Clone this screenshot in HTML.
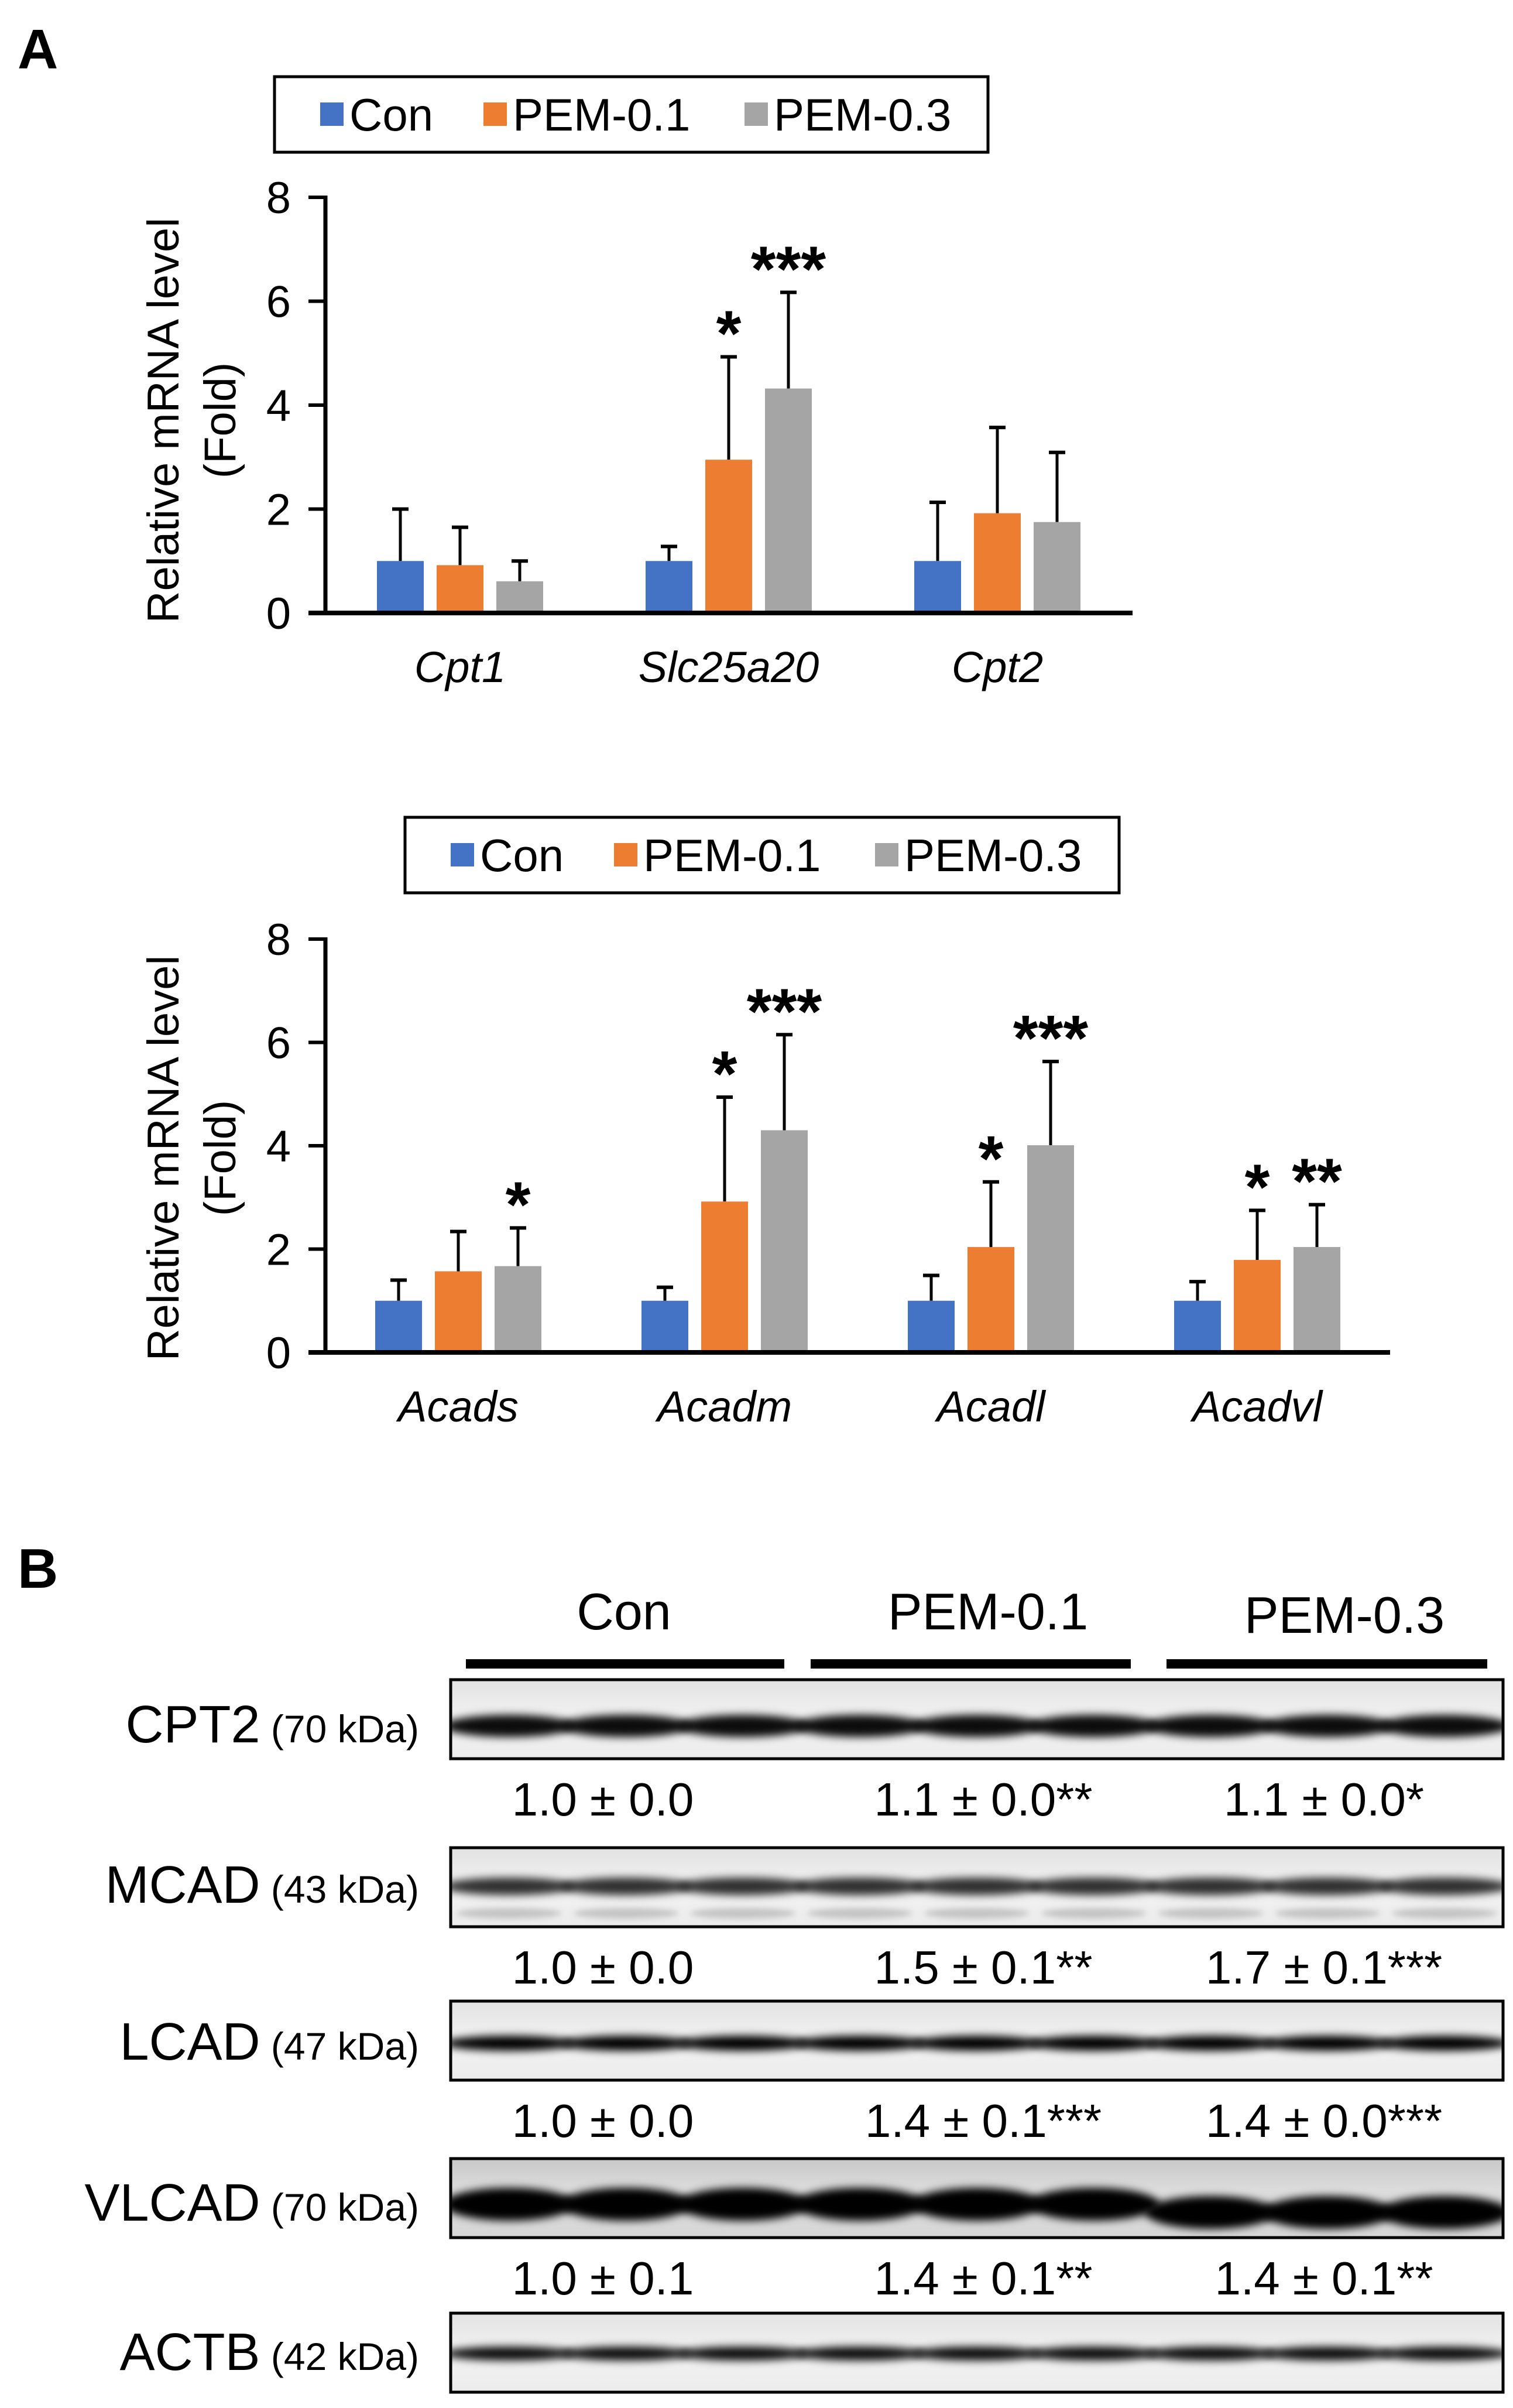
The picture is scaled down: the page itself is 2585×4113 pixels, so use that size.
<!DOCTYPE html>
<html><head><meta charset="utf-8">
<style>
html,body{margin:0;padding:0;background:#fff;}
svg{display:block;}
text{font-family:"Liberation Sans",Arial,sans-serif;fill:#000;}
</style></head>
<body>
<svg id="fig" width="2585" height="4113" viewBox="0 0 2585 4113" xmlns="http://www.w3.org/2000/svg">
<defs>
<filter id="blur" x="-5%" y="-100%" width="110%" height="300%"><feGaussianBlur stdDeviation="7"/></filter>
<filter id="blur2" x="-5%" y="-100%" width="110%" height="300%"><feGaussianBlur stdDeviation="5"/></filter>
<clipPath id="clipAll"><rect x="770" y="2860" width="1798" height="1240"/></clipPath>
<linearGradient id="bgA" x1="0" y1="0" x2="0" y2="1"><stop offset="0" stop-color="#e2e2e2"/><stop offset="0.5" stop-color="#f2f2f2"/><stop offset="1" stop-color="#ececec"/></linearGradient>
<linearGradient id="bgV" x1="0" y1="0" x2="0" y2="1"><stop offset="0" stop-color="#c8c8c8"/><stop offset="0.4" stop-color="#dcdcdc"/><stop offset="1" stop-color="#d6d6d6"/></linearGradient>
</defs>
<text x="30" y="117" font-size="96" font-weight="bold">A</text>
<text x="30" y="2712" font-size="96" font-weight="bold">B</text>
<g id="c1"></g>
<g id="c2"></g>
<g id="blot"></g>
</svg>
<script>
const seriesNames = ["Con", "PEM-0.1", "PEM-0.3"];
const seriesColors = ["#4472C4", "#ED7D31", "#A5A5A5"];
const yTicks = [0, 2, 4, 6, 8];
const cats1 = ["Cpt1", "Slc25a20", "Cpt2"];
const con1 = [1.0, 1.0, 1.0];
const pem01_1 = [0.92, 2.95, 1.92];
const pem03_1 = [0.61, 4.32, 1.75];
const conErr1 = [2.0, 1.28, 2.13];
const pem01Err1 = [1.65, 4.93, 3.57];
const pem03Err1 = [1.0, 6.17, 3.09];
const sig1 = [["", "", ""], ["", "*", "***"], ["", "", ""]];
const cats2 = ["Acads", "Acadm", "Acadl", "Acadvl"];
const con2 = [1.0, 1.0, 1.0, 1.0];
const pem01_2 = [1.57, 2.92, 2.04, 1.79];
const pem03_2 = [1.67, 4.3, 4.01, 2.04];
const conErr2 = [1.4, 1.26, 1.49, 1.37];
const pem01Err2 = [2.34, 4.94, 3.3, 2.75];
const pem03Err2 = [2.41, 6.15, 5.63, 2.86];
const sig2 = [["", "", "*"], ["", "*", "***"], ["", "*", "***"], ["", "*", "**"]];

const NS = "http://www.w3.org/2000/svg";
function mk(parent, tag, attrs, txt) {
  const e = document.createElementNS(NS, tag);
  for (const k in attrs) e.setAttribute(k, attrs[k]);
  if (txt !== undefined) e.textContent = txt;
  parent.appendChild(e);
  return e;
}

function drawChart(g, cfg) {
  const yScale = v => cfg.y0 - (v / 8) * (cfg.y0 - cfg.y8);
  const xCenter = i => cfg.firstCenter + i * cfg.groupStep;
  const lg = mk(g, "g", {});
  
  
  const lb = mk(lg, "rect", {x: cfg.legX, y: cfg.legY, width: cfg.legW, height: 129, fill: "#fff", stroke: "#000", "stroke-width": 5});
  
  
  const legOff = [0, 279, 725];
  seriesNames.forEach((n, s) => {
    const ex = cfg.legX + 78 + legOff[s];
    const sw = mk(lg, "rect", {x: ex, y: cfg.legY + 44, width: 40, height: 40, fill: seriesColors[s]});
    
    
    const t = mk(lg, "text", {x: ex + 50, y: cfg.legY + 92, "font-size": 78}, n);
    
    
  });
  const ya = mk(g, "line", {x1: 556, y1: yScale(8) - 3, x2: 556, y2: yScale(0), stroke: "#000", "stroke-width": 7});
  
  
  yTicks.forEach(t => {
    const tk = mk(g, "line", {x1: 527, y1: yScale(t), x2: 556, y2: yScale(t), stroke: "#000", "stroke-width": 6});
    
    
    const tl = mk(g, "text", {x: 497, y: yScale(t) + 27, "font-size": 76, "text-anchor": "end"}, String(t));
    
    
  });
  const yt = mk(g, "text", {transform: `translate(305 ${cfg.titleY}) rotate(-90)`, "font-size": 76, "text-anchor": "middle"}, "Relative mRNA level");
  
  
  const yt2 = mk(g, "text", {transform: `translate(402 ${cfg.titleY}) rotate(-90)`, "font-size": 76, "text-anchor": "middle"}, "(Fold)");
  
  
  const vals = [cfg.con, cfg.p1, cfg.p3];
  const errs = [cfg.conE, cfg.p1E, cfg.p3E];
  const bw = 80, step = 102;
  cfg.cats.forEach((c, i) => {
    for (let s = 0; s < 3; s++) {
      const cx = xCenter(i) + (s - 1) * step;
      const top = yScale(vals[s][i]);
      const et = yScale(errs[s][i]);
      const el = mk(g, "line", {x1: cx, y1: top, x2: cx, y2: et, stroke: "#000", "stroke-width": 5});
      
      
      const ec = mk(g, "line", {x1: cx - 14, y1: et, x2: cx + 14, y2: et, stroke: "#000", "stroke-width": 6});
      
      
      const b = mk(g, "rect", {x: cx - bw / 2, y: top, width: bw, height: yScale(0) - top, fill: seriesColors[s]});
      
      
      if (cfg.sig[i][s]) {
        const st = mk(g, "text", {x: cx, y: et - 2, "font-size": 110, "font-weight": "bold", "text-anchor": "middle"}, cfg.sig[i][s]);
        
        
      }
    }
    const cl = mk(g, "text", {x: xCenter(i), y: yScale(0) + 118, "font-size": 74, "font-style": "italic", "text-anchor": "middle"}, c);
    
    
  });
  const xa = mk(g, "line", {x1: 527, y1: yScale(0), x2: cfg.xEnd, y2: yScale(0), stroke: "#000", "stroke-width": 8});
  
  
}

drawChart(document.getElementById("c1"), {y0: 1047, y8: 337, firstCenter: 786, groupStep: 459, xEnd: 1935,
  legX: 469, legY: 131, legW: 1219, titleY: 718, cats: cats1, con: con1, p1: pem01_1, p3: pem03_1,
  conE: conErr1, p1E: pem01Err1, p3E: pem03Err1, sig: sig1});
drawChart(document.getElementById("c2"), {y0: 2310, y8: 1604, firstCenter: 783, groupStep: 455, xEnd: 2375,
  legX: 692, legY: 1396, legW: 1220, titleY: 1978, cats: cats2, con: con2, p1: pem01_2, p3: pem03_2,
  conE: conErr2, p1E: pem01Err2, p3E: pem03Err2, sig: sig2});

const groups = ["Con", "PEM-0.1", "PEM-0.3"];
const proteins = ["CPT2", "MCAD", "LCAD", "VLCAD", "ACTB"];
const kda = ["(70 kDa)", "(43 kDa)", "(47 kDa)", "(70 kDa)", "(42 kDa)"];
const quantCon = ["1.0 ± 0.0", "1.0 ± 0.0", "1.0 ± 0.0", "1.0 ± 0.1"];
const quantP1 = ["1.1 ± 0.0**", "1.5 ± 0.1**", "1.4 ± 0.1***", "1.4 ± 0.1**"];
const quantP3 = ["1.1 ± 0.0*", "1.7 ± 0.1***", "1.4 ± 0.0***", "1.4 ± 0.1**"];
const boxTops = [2869, 3156, 3418, 3687, 3951];
const bandCenter = [2948, 3222, 3490, 3765, 4020];
const bandThick = [38, 30, 26, 56, 24];
const bandDark = [0.95, 0.8, 1, 1, 0.95];

const bg = document.getElementById("blot");
const headX = [1066, 1688, 2297];
const barX = [[796, 1340], [1385, 1932], [1993, 2541]];
groups.forEach((n, i) => {
  const t = mk(bg, "text", {x: headX[i], y: 2783 + (i === 2 ? 6 : 0), "font-size": 88, "text-anchor": "middle"}, n);
  
  
  const l = mk(bg, "rect", {x: barX[i][0], y: 2834, width: barX[i][1] - barX[i][0], height: 16, fill: "#000"});
  
  
});
const lanes = 9, bx0 = 770, bx1 = 2568, lw = (bx1 - bx0) / lanes;
proteins.forEach((p, r) => {
  const top = boxTops[r], h = 135;
  const grp = mk(bg, "g", {});
  
  
  mk(grp, "rect", {x: bx0, y: top, width: bx1 - bx0, height: h, fill: r === 3 ? "url(#bgV)" : "url(#bgA)"});
  const inner = mk(grp, "g", {"clip-path": "url(#clipAll)"});
  for (let k = 0; k < lanes; k++) {
    const cx = bx0 + lw * (k + 0.5);
    const dy = (r === 3 && k >= 6) ? 14 : 0;
    mk(inner, "ellipse", {cx: cx, cy: bandCenter[r] + dy, rx: lw * 0.56, ry: bandThick[r] / 2, fill: "#000", "fill-opacity": bandDark[r], filter: "url(#blur)"});
    if (r === 1) mk(inner, "ellipse", {cx: cx, cy: bandCenter[r] + 46, rx: lw * 0.45, ry: 9, fill: "#999", "fill-opacity": 0.5, filter: "url(#blur2)"});
  }
  mk(grp, "rect", {x: bx0, y: top, width: bx1 - bx0, height: h, fill: "none", stroke: "#000", "stroke-width": 5});
  const lt = mk(bg, "text", {x: 716, y: bandCenter[r] + 28, "text-anchor": "end"});
  
  
  mk(lt, "tspan", {"font-size": 90}, p);
  mk(lt, "tspan", {"font-size": 66}, " " + kda[r]);
  if (r < 4) {
    const qy = boxTops[r] + 232;
    [[quantCon, 1030], [quantP1, 1680], [quantP3, 2262]].forEach(([arr, x]) => {
      const q = mk(bg, "text", {x: x, y: qy, "font-size": 80, "text-anchor": "middle"}, arr[r]);
      
      
    });
  }
});
</script>
</body></html>
